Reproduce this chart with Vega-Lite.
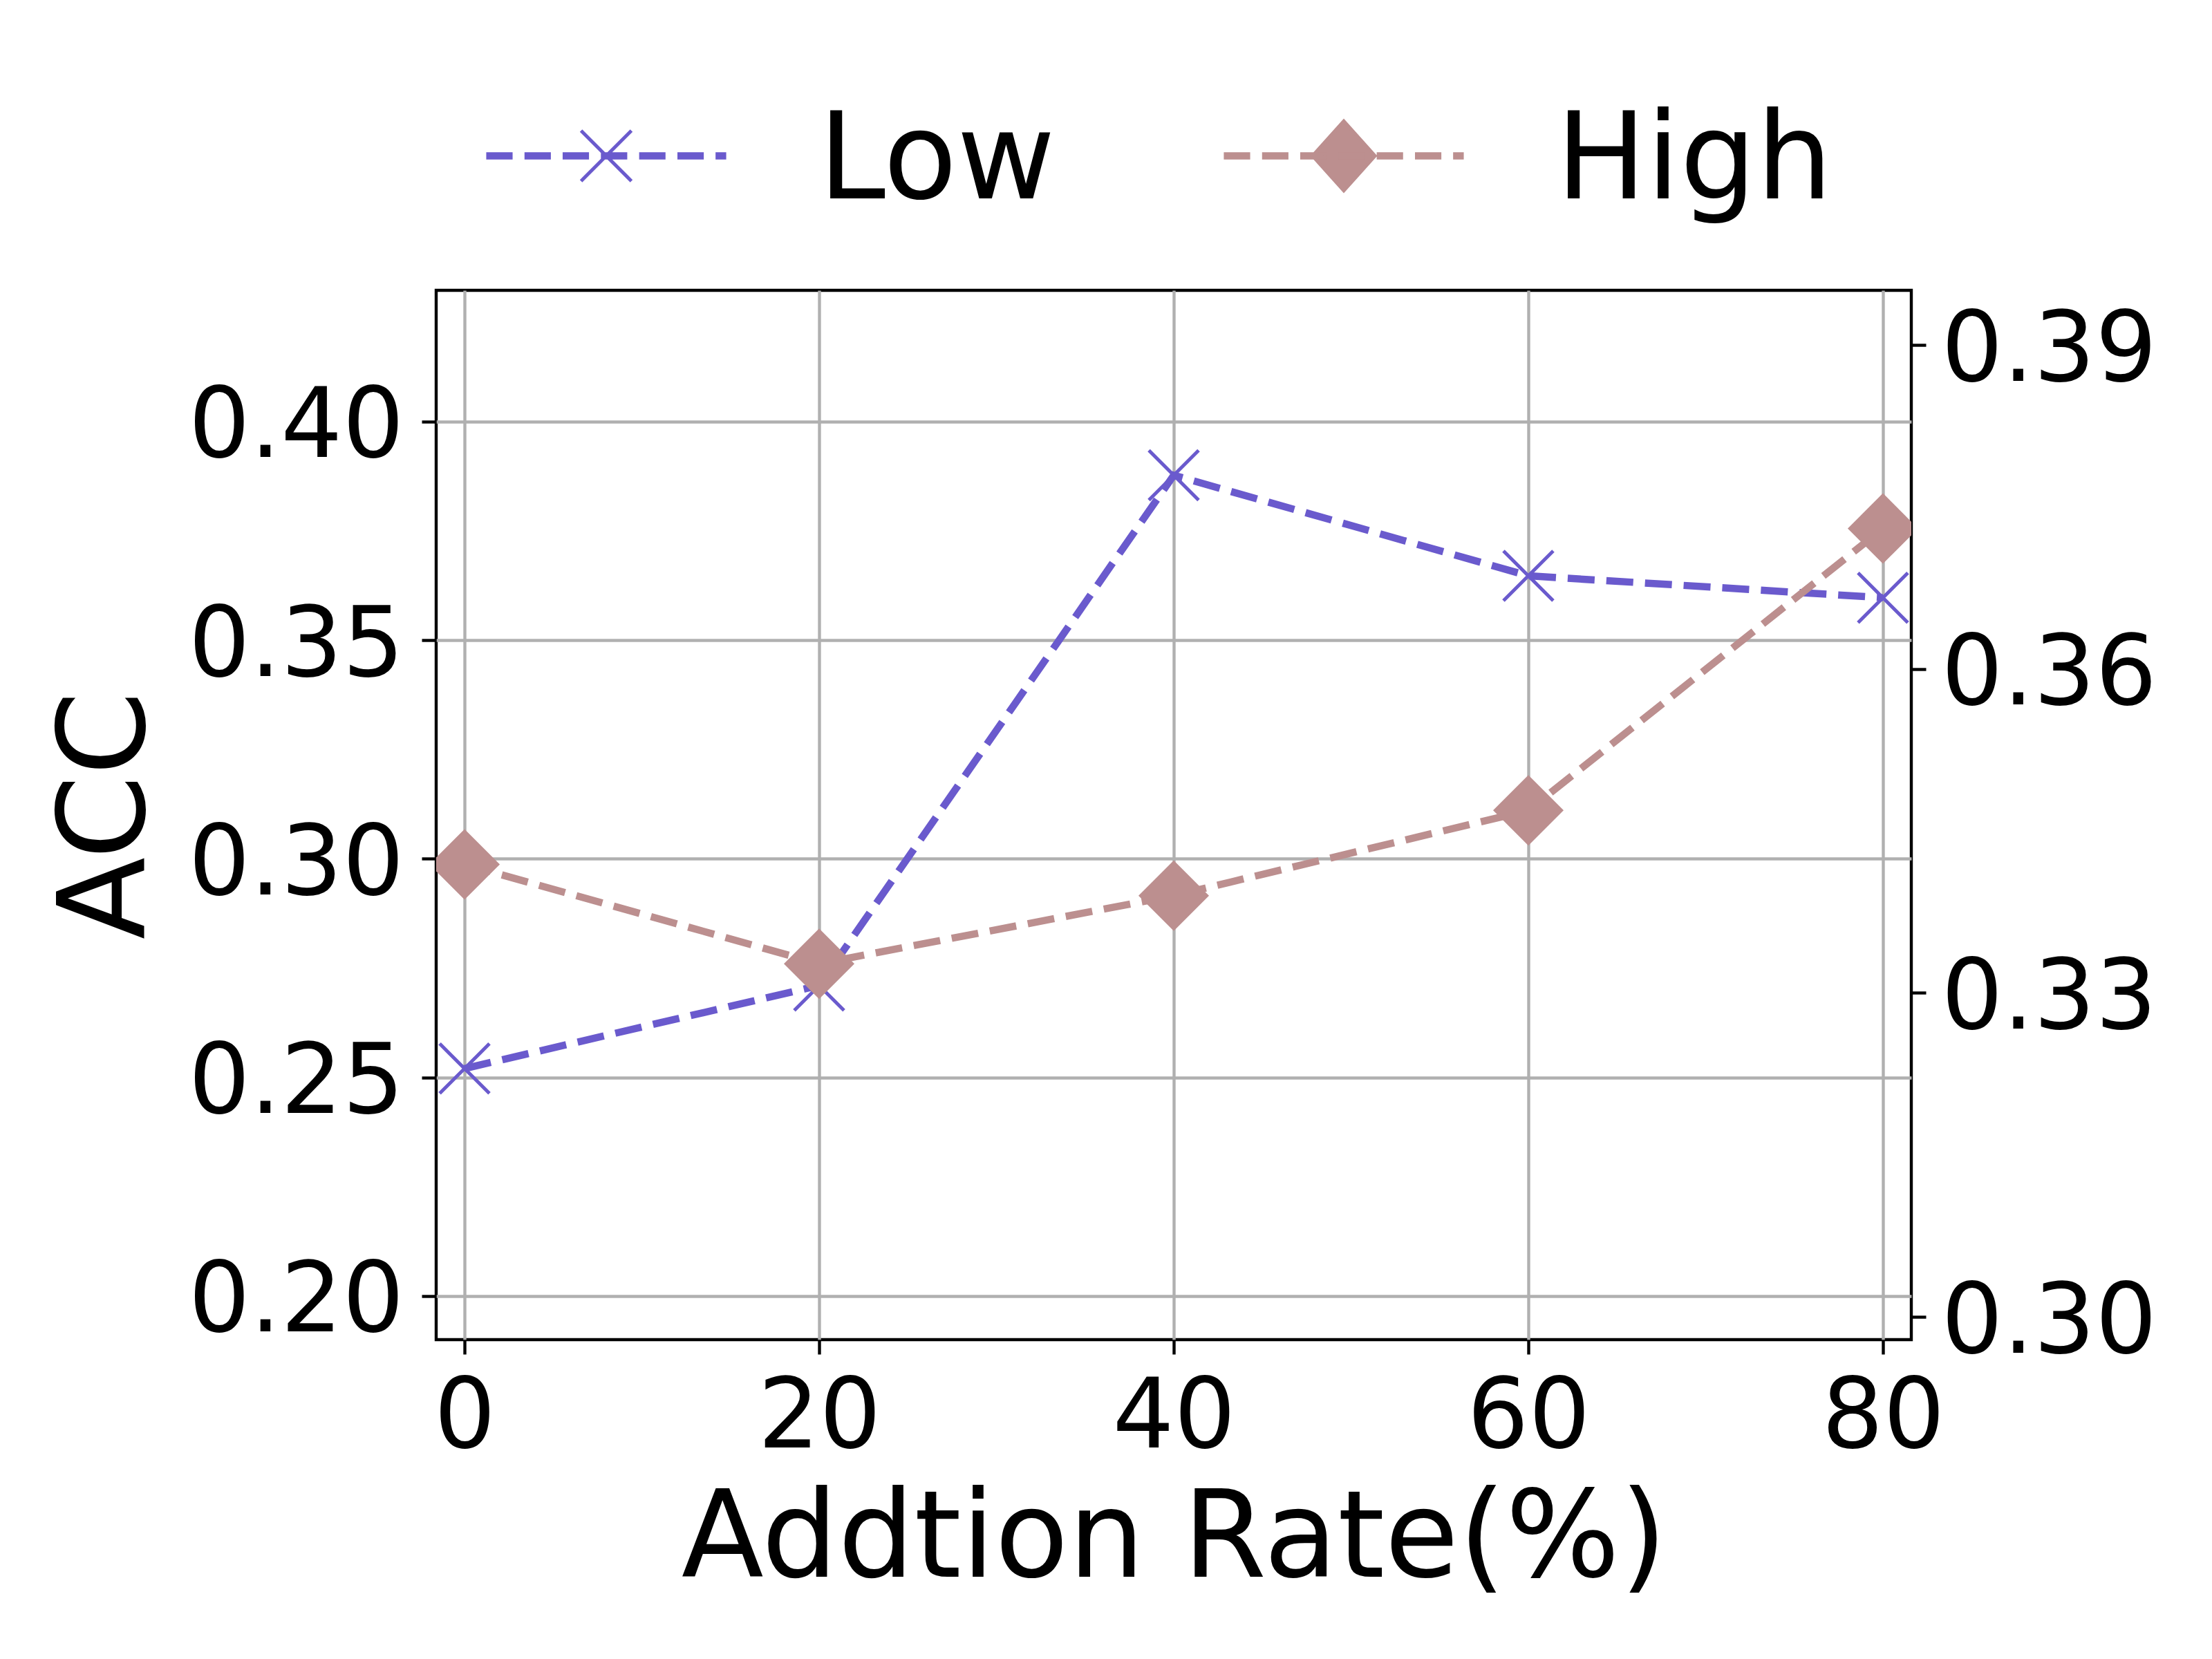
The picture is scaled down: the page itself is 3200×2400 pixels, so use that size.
{
  "$schema": "https://vega.github.io/schema/vega-lite/v6.json",
  "autosize": "none",
  "width": 2134,
  "height": 1518,
  "padding": {"left": 631, "top": 420, "right": 435, "bottom": 462},
  "background": "white",
  "config": {
    "font": "DejaVu Sans",
    "view": {"stroke": "black", "strokeWidth": 4.4},
    "axis": {
      "domain": false,
      "gridColor": "#b0b0b0",
      "gridWidth": 4.4,
      "gridOpacity": 1,
      "tickColor": "black",
      "tickWidth": 4.4,
      "tickSize": 21,
      "labelFontSize": 140,
      "labelLimit": 1000,
      "labelColor": "black",
      "labelFont": "DejaVu Sans",
      "titleFont": "DejaVu Sans",
      "titleFontSize": 174,
      "titleFontWeight": "normal",
      "titleColor": "black"
    }
  },
  "data": {
    "values": [
      {"rate": 0, "acc": 0.252, "series": "Low"},
      {"rate": 20, "acc": 0.271, "series": "Low"},
      {"rate": 40, "acc": 0.3877, "series": "Low"},
      {"rate": 60, "acc": 0.3647, "series": "Low"},
      {"rate": 80, "acc": 0.3597, "series": "Low"},
      {"rate": 0, "acc": 0.3419, "series": "High"},
      {"rate": 20, "acc": 0.3327, "series": "High"},
      {"rate": 40, "acc": 0.339, "series": "High"},
      {"rate": 60, "acc": 0.3469, "series": "High"},
      {"rate": 80, "acc": 0.373, "series": "High"}
    ]
  },
  "layer": [
    {
      "transform": [{"filter": "datum.series === 'Low'"}],
      "encoding": {
        "x": {
          "field": "rate",
          "type": "quantitative",
          "scale": {"domain": [-1.6, 81.6], "nice": false, "zero": false},
          "axis": {"values": [0, 20, 40, 60, 80], "format": "d", "grid": true, "labelPadding": 23, "titlePadding": 22, "title": "Addtion Rate(%)"}
        },
        "y": {
          "field": "acc",
          "type": "quantitative",
          "scale": {"domain": [0.19, 0.43], "nice": false, "zero": false},
          "axis": {"orient": "left", "values": [0.2, 0.25, 0.3, 0.35, 0.4], "format": ".2f", "grid": true, "labelPadding": 26, "labelOffset": 9, "titlePadding": 186, "title": "ACC"}
        }
      },
      "layer": [
        {"mark": {"type": "line", "color": "#6a5acd", "strokeWidth": 10.5, "strokeDash": [39, 17], "clip": true}},
        {"mark": {"type": "point", "color": "#6a5acd", "shape": "M-1,-1L1,1M-1,1L1,-1", "filled": false, "size": 5184, "strokeWidth": 5, "opacity": 1, "clip": true}}
      ]
    },
    {
      "transform": [{"filter": "datum.series === 'High'"}],
      "encoding": {
        "x": {
          "field": "rate",
          "type": "quantitative",
          "scale": {"domain": [-1.6, 81.6], "nice": false, "zero": false},
          "axis": {"values": [0, 20, 40, 60, 80], "format": "d", "grid": true, "labelPadding": 23, "titlePadding": 22, "title": "Addtion Rate(%)"}
        },
        "y": {
          "field": "acc",
          "type": "quantitative",
          "scale": {"domain": [0.29789, 0.39506], "nice": false, "zero": false},
          "axis": {"orient": "right", "values": [0.3, 0.33, 0.36, 0.39], "format": ".2f", "grid": false, "labelPadding": 22, "labelOffset": 9, "title": null}
        }
      },
      "layer": [
        {"mark": {"type": "line", "color": "#bc8f8f", "strokeWidth": 10.5, "strokeDash": [39, 17], "clip": true}},
        {"mark": {"type": "point", "color": "#bc8f8f", "shape": "diamond", "filled": true, "size": 10404, "opacity": 1, "clip": true}}
      ]
    },
    {
      "mark": {"type": "point", "filled": true, "opacity": 0, "size": 1},
      "encoding": {
        "color": {
          "field": "series",
          "type": "nominal",
          "scale": {"domain": ["Low", "High"], "range": ["#6a5acd", "#bc8f8f"]},
          "legend": {
            "title": null,
            "orient": "none",
            "direction": "horizontal",
            "legendX": 70,
            "legendY": -370.5,
            "padding": 0,
            "offset": 0,
            "symbolSize": 120409,
            "symbolStrokeWidth": 5,
            "symbolOpacity": 1,
            "labelOffset": 131,
            "labelFontSize": 174,
            "labelFont": "DejaVu Sans",
            "labelColor": "black",
            "labelLimit": 1000,
            "columnPadding": 235,
            "encode": {
              "symbols": {
                "update": {
                  "fill": {"scale": "color", "field": "value"},
                  "stroke": {"scale": "color", "field": "value"},
                  "strokeDash": {"value": []},
                  "opacity": {"value": 1}
                }
              },
              "labels": {"update": {"dy": {"value": 9}}}
            }
          }
        },
        "shape": {
          "field": "series",
          "type": "nominal",
          "scale": {
            "domain": ["Low", "High"],
            "range": [
              "M-0.986,-0.016L-0.795,-0.016L-0.795,0.016L-0.986,0.016ZM-0.667,-0.016L-0.476,-0.016L-0.476,0.016L-0.667,0.016ZM-0.349,-0.016L-0.158,-0.016L-0.158,0.016L-0.349,0.016ZM-0.03,-0.016L0.161,-0.016L0.161,0.016L-0.03,0.016ZM0.289,-0.016L0.48,-0.016L0.48,0.016L0.289,0.016ZM0.608,-0.016L0.799,-0.016L0.799,0.016L0.608,0.016ZM0.926,-0.016L0.986,-0.016L0.986,0.016L0.926,0.016ZM-0.21,-0.21L0.21,0.21M-0.21,0.21L0.21,-0.21",
              "M-0.986,-0.016L-0.795,-0.016L-0.795,0.016L-0.986,0.016ZM-0.667,-0.016L-0.476,-0.016L-0.476,0.016L-0.667,0.016ZM-0.349,-0.016L-0.158,-0.016L-0.158,0.016L-0.349,0.016ZM-0.03,-0.016L0.161,-0.016L0.161,0.016L-0.03,0.016ZM0.289,-0.016L0.48,-0.016L0.48,0.016L0.289,0.016ZM0.608,-0.016L0.799,-0.016L0.799,0.016L0.608,0.016ZM0.926,-0.016L0.986,-0.016L0.986,0.016L0.926,0.016ZM-0.26,0L0,-0.29L0.26,0L0,0.29Z"
            ]
          },
          "legend": null
        }
      }
    }
  ],
  "resolve": {"scale": {"y": "independent"}}
}
